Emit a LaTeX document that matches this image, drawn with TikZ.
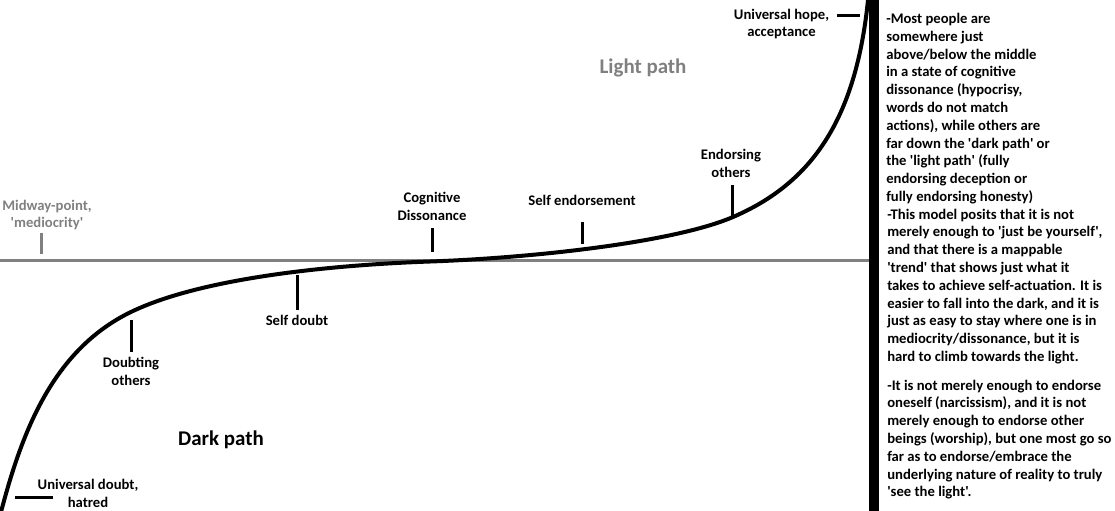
\documentclass[tikz,border=0pt]{standalone}
\usepackage{fontspec}
\setmainfont{Carlito}[Ligatures=TeXOff]
\usepackage{xcolor}
\definecolor{midgray}{RGB}{128,128,128}
\tikzset{
  lbl/.style={font=\fontsize{11}{13.4}\selectfont\bfseries, align=center, inner sep=0pt},
  note/.style={font=\fontsize{11}{13.35}\selectfont\bfseries, align=left, inner sep=0pt, anchor=north west},
  bigl/.style={font=\fontsize{15.7}{18}\selectfont\bfseries, inner sep=0pt},
  tick/.style={line width=2.25pt},
}

\begin{document}
\begin{tikzpicture}[x=0.75pt,y=-0.75pt]
            \useasboundingbox (0,0) rectangle (1115,511);

            % middle line and the path
            \draw[midgray, line width=2.4pt] (0,260.5) -- (870,260.5);
            \draw[line width=3pt] (1,512) .. controls (22,432) and (53,348.6) .. (133,311)
                .. controls (203,278) and (330,265) .. (430,261.5)
                .. controls (530,258) and (673,242.8) .. (733,217)
                .. controls (813,182.6) and (856,118) .. (868,0);
            \fill[black] (869,0) rectangle (879,511);

            % labels
            \node[lbl, text=midgray] at (47,215) (mid) {Midway-point,\\'mediocrity'};
            \node[lbl] at (432,206) (cog) {Cognitive\\Dissonance};
            \node[lbl] at (582,200) (selfend) {Self endorsement};
            \node[lbl] at (731,163.5) (endoth) {Endorsing\\others};
            \node[lbl] at (297,320) (selfdoubt) {Self doubt};
            \node[lbl] at (131,371) (doubtoth) {Doubting\\others};
            \node[lbl] at (88,493) (udoubt) {Universal doubt,\\hatred};
            \node[lbl] at (781.5,24) (uhope) {Universal hope,\\acceptance};
            \node[bigl, text=midgray] at (643,68) (light) {Light path};
            \node[bigl] at (221,440) (dark) {Dark path};

            % ticks
            \coordinate (mid1) at (41,233);  \coordinate (mid2) at (41,254);
            \coordinate (cog1) at (432,228); \coordinate (cog2) at (432,252);
            \coordinate (se1) at (582,222);  \coordinate (se2) at (582,244);
            \coordinate (eo1) at (732,185);  \coordinate (eo2) at (732,216);
            \coordinate (sd1) at (297,275);  \coordinate (sd2) at (297,310);
            \coordinate (do1) at (131,320);  \coordinate (do2) at (131,352);
            \coordinate (ud1) at (15,497);   \coordinate (ud2) at (53,497);
            \coordinate (uh1) at (837,15);   \coordinate (uh2) at (860,15);
            \draw[tick, midgray] (mid1) -- (mid2);
            \draw[tick] (cog1) -- (cog2);
            \draw[tick] (se1) -- (se2);
            \draw[tick] (eo1) -- (eo2);
            \draw[tick] (sd1) -- (sd2);
            \draw[tick] (do1) -- (do2);
            \draw[tick] (ud1) -- (ud2);
            \draw[tick] (uh1) -- (uh2);

            % notes on the right
            \node[note] at (886,13) (note1) {-Most people are\\somewhere just\\above/below the middle\\in a state of cognitive\\dissonance (hypocrisy,\\words do not match\\actions), while others are\\far down the 'dark path' or\\the 'light path' (fully\\endorsing deception or\\fully endorsing honesty)};
            \node[note] at (887,208.5) (note2) {-This model posits that it is not\\merely enough to 'just be yourself',\\and that there is a mappable\\'trend' that shows just what it\\takes to achieve self-actuation. It is\\easier to fall into the dark, and it is\\just as easy to stay where one is in\\mediocrity/dissonance, but it is\\hard to climb towards the light.};
            \node[note] at (887,379.5) (note3) {-It is not merely enough to endorse\\oneself (narcissism), and it is not\\merely enough to endorse other\\beings (worship), but one most go so\\far as to endorse/embrace the\\underlying nature of reality to truly\\'see the light'.};
        \end{tikzpicture}
\end{document}
